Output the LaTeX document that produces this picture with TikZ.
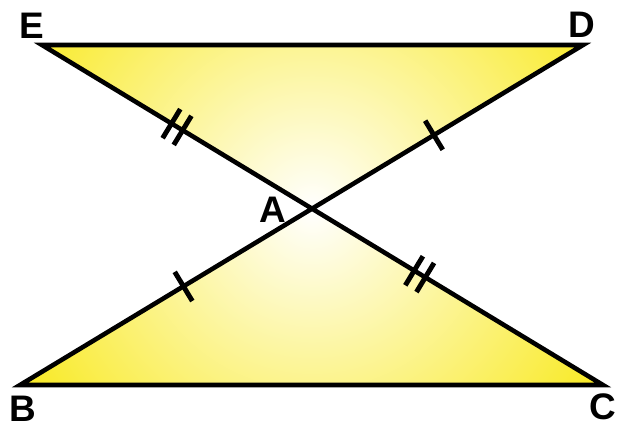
\documentclass[tikz,border=0pt]{standalone}
\usepackage{fontspec}
\setmainfont{Liberation Sans}
\usetikzlibrary{calc}
\definecolor{triyellow}{RGB}{248,232,20}

\begin{document}
\begin{tikzpicture}[x=0.01cm, y=-0.01cm, line width=1.3pt,
    lbl/.style={font=\fontsize{10.5}{12}\selectfont\bfseries},
    tick/.style={line width=1.4pt}]
    \useasboundingbox (0,0) rectangle (625,432);

    % Vertices
    \coordinate (E) at (42,45);
    \coordinate (D) at (583,45);
    \coordinate (A) at (312,209);
    \coordinate (B) at (20,385);
    \coordinate (C) at (603,385);

    % Fill
    \begin{scope}
        \clip (E) -- (D) -- (A) -- cycle (B) -- (C) -- (A) -- cycle;
        \shade[inner color=white, outer color=triyellow] (A) circle (360);
    \end{scope}

    % Edges
    \draw (E) -- (D) -- (B) -- (C) -- cycle;

    % Ticks
    \coordinate (m1) at ($(A)!0.45!(D)$);
    \coordinate (m2) at ($(A)!0.44!(B)$);
    \draw[tick] ($(m1)!0.17cm!90:(A)$) -- ($(m1)!0.17cm!-90:(A)$);
    \draw[tick] ($(m2)!0.17cm!90:(A)$) -- ($(m2)!0.17cm!-90:(A)$);

    \coordinate (n1) at ($(E)!0.5!(A)$);
    \coordinate (n1a) at ($(n1)!0.065cm!(A)$);
    \coordinate (n1b) at ($(n1)!0.065cm!(E)$);
    \coordinate (n2) at ($(A)!0.37!(C)$);
    \coordinate (n2a) at ($(n2)!0.065cm!(A)$);
    \coordinate (n2b) at ($(n2)!0.065cm!(C)$);
    \draw[tick] ($(n1a)!0.17cm!90:(A)$) -- ($(n1a)!0.17cm!-90:(A)$);
    \draw[tick] ($(n1b)!0.17cm!90:(E)$) -- ($(n1b)!0.17cm!-90:(E)$);
    \draw[tick] ($(n2a)!0.17cm!90:(A)$) -- ($(n2a)!0.17cm!-90:(A)$);
    \draw[tick] ($(n2b)!0.17cm!90:(C)$) -- ($(n2b)!0.17cm!-90:(C)$);

    % Labels
    \node (lE) [lbl] at (32,26) {E};
    \node (lD) [lbl] at (582,25) {D};
    \node (lA) [lbl] at (273,210) {A};
    \node (lB) [lbl] at (23,409) {B};
    \node (lC) [lbl] at (603,407) {C};
\end{tikzpicture}
\end{document}
